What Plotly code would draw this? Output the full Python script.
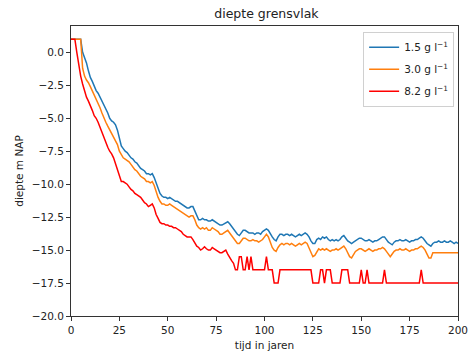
import plotly.graph_objects as go

# Time axis (years) and interface depth (m NAP) for three salinities
years = list(range(0, 201))

depth_1_5 = [
    1.0, 1.0, 1.0, 1.0, 1.0, 1.0, 0.0, -0.4, -0.8, -1.4,
    -1.9, -2.2, -2.6, -2.9, -3.1, -3.4, -3.6, -3.9, -4.2, -4.6,
    -5.0, -5.2, -5.3, -5.5, -5.9, -6.5, -7.1, -7.3, -7.5, -7.6,
    -7.8, -8.0, -8.1, -8.3, -8.4, -8.6, -8.8, -8.9, -9.0, -9.2,
    -9.2, -9.3, -9.2, -9.5, -9.9, -10.3, -10.7, -10.9, -11.0, -11.0,
    -11.1, -11.0, -11.1, -11.2, -11.3, -11.3, -11.4, -11.5, -11.6, -11.7,
    -11.8, -11.8, -11.7, -11.7, -12.0, -12.4, -12.7, -12.7, -12.6, -12.7,
    -12.7, -12.8, -12.8, -12.7, -12.8, -12.9, -13.0, -13.1, -13.1, -13.0,
    -12.9, -12.85, -13.0, -13.2, -13.4, -13.6, -13.8, -13.9, -13.7, -13.5,
    -13.5, -13.6, -13.7, -13.7, -13.7, -13.8, -13.7, -13.7, -13.8, -13.6,
    -13.5, -13.4, -13.5, -13.8, -14.0, -14.2, -14.3, -14.0, -13.8, -13.8,
    -13.9, -13.8, -13.8, -13.9, -13.8, -13.9, -14.0, -13.9, -13.8, -13.9,
    -13.8, -13.7, -13.8, -14.0, -14.3, -14.5, -14.5, -14.2, -14.1, -14.2,
    -14.0, -14.1, -14.0, -14.2, -14.3, -14.2, -14.3, -14.2, -14.3, -14.2,
    -14.0, -13.9, -14.1, -14.3, -14.4, -14.5, -14.4, -14.3, -14.2, -14.1,
    -14.1, -14.2, -14.3, -14.3, -14.2, -14.3, -14.4, -14.3, -14.3, -14.2,
    -14.1, -14.0, -14.0, -14.2, -14.4, -14.5, -14.6, -14.4, -14.3, -14.3,
    -14.2, -14.3, -14.3, -14.2, -14.3, -14.4, -14.3, -14.3, -14.2, -14.2,
    -14.1, -14.0, -14.1, -14.3, -14.5, -14.6, -14.7, -14.5, -14.4, -14.4,
    -14.3, -14.4, -14.4, -14.3, -14.4, -14.4, -14.3, -14.4, -14.5, -14.4,
    -14.5,
]

depth_3_0 = [
    1.0, 1.0, 1.0, 1.0, 1.0, 1.0, -1.2, -1.8, -2.1, -2.3,
    -2.6, -2.9, -3.2, -3.5, -3.8, -4.2, -4.6, -5.0, -5.3, -5.6,
    -5.9, -6.1, -6.4, -6.7, -7.0, -7.5, -7.8, -8.0, -8.1, -8.2,
    -8.3, -8.5, -8.7, -8.9, -9.0, -9.2, -9.4, -9.5, -9.6, -9.8,
    -9.8, -9.9, -9.8, -10.1, -10.6, -11.0, -11.3, -11.5, -11.5, -11.6,
    -11.6, -11.5, -11.6, -11.7, -11.8, -11.9, -12.0, -12.1, -12.2, -12.3,
    -12.4, -12.5, -12.4, -12.4, -12.7, -13.1, -13.3, -13.4, -13.3, -13.4,
    -13.3, -13.5, -13.5, -13.3, -13.4, -13.5, -13.6, -13.8, -13.8, -13.7,
    -13.6, -13.5, -13.7, -13.9, -14.1, -14.3, -14.5, -14.5, -14.3, -14.1,
    -14.1, -14.2, -14.3, -14.3, -14.2, -14.3, -14.3, -14.4, -14.3, -14.2,
    -14.0, -13.8, -14.0, -14.4, -14.8, -15.0, -15.1, -14.8, -14.6, -14.5,
    -14.6, -14.5, -14.5, -14.6, -14.5, -14.6, -14.7, -14.6, -14.5, -14.6,
    -14.5, -14.4, -14.5, -14.8, -15.2, -15.5, -15.4, -15.1, -14.9, -15.0,
    -14.9, -15.0, -14.9, -15.0, -15.1, -15.0, -15.0, -14.9, -15.0, -14.9,
    -14.8, -14.7, -14.9, -15.2, -15.5, -15.6, -15.3, -15.1, -15.0, -14.9,
    -14.9, -15.0, -15.1, -15.0, -14.9, -15.0, -15.1, -15.0, -15.0, -14.9,
    -14.9, -14.8, -14.9, -15.1, -15.3, -15.5, -15.3, -15.1, -15.0, -15.0,
    -14.9, -15.0, -15.0, -14.9, -15.0, -15.1, -15.0, -15.0, -14.9, -14.9,
    -14.8, -14.7, -14.8, -15.0, -15.3, -15.6, -15.6, -15.2, -15.2, -15.2,
    -15.2, -15.2, -15.2, -15.2, -15.2, -15.2, -15.2, -15.2, -15.2, -15.2,
    -15.2,
]

depth_8_2 = [
    1.0, 1.0, 1.0, 0.0, -1.0, -1.8, -2.4, -3.0, -3.4, -3.7,
    -4.0, -4.4, -4.8, -5.0, -5.3, -5.7, -6.0, -6.4, -6.8, -7.2,
    -7.5, -7.7, -8.0, -8.5, -9.0, -9.5, -9.8, -9.8, -9.9, -10.0,
    -10.2, -10.4, -10.5, -10.7, -10.8, -10.9, -11.0, -11.2, -11.4, -11.5,
    -11.7, -11.6, -11.5, -11.8, -12.3, -12.6, -12.9, -13.0, -13.0, -13.1,
    -13.1, -13.2, -13.2, -13.3, -13.3, -13.4, -13.5, -13.6, -13.8, -13.9,
    -14.0, -14.0, -14.0, -14.2, -14.5, -14.7, -14.8, -15.0, -14.9, -14.75,
    -14.9, -15.0, -15.0, -14.8, -14.9, -15.0, -15.1, -15.2, -15.2, -15.1,
    -15.0, -15.3, -15.6, -15.8, -16.0, -16.5, -16.5, -15.5, -15.5, -16.5,
    -16.5, -15.5, -16.5, -15.5, -16.5, -16.5, -16.5, -16.5, -16.5, -16.5,
    -16.5, -15.5, -16.5, -16.5, -16.5, -17.5, -17.5, -17.5, -16.5, -16.5,
    -16.5, -16.5, -16.5, -16.5, -16.5, -16.5, -16.5, -16.5, -16.5, -16.5,
    -16.5, -16.5, -16.5, -16.5, -16.5, -17.5, -17.5, -17.5, -17.5, -16.5,
    -16.5, -17.5, -16.5, -16.5, -16.5, -17.5, -17.5, -17.5, -17.5, -17.5,
    -16.5, -16.5, -16.5, -16.5, -17.5, -17.5, -17.5, -17.5, -17.5, -17.5,
    -16.5, -17.5, -17.5, -16.5, -17.5, -17.5, -17.5, -17.5, -17.5, -17.5,
    -17.5, -17.5, -16.5, -17.5, -17.5, -17.5, -17.5, -17.5, -17.5, -17.5,
    -17.5, -17.5, -17.5, -17.5, -17.5, -17.5, -17.5, -17.5, -17.5, -17.5,
    -17.5, -16.5, -17.5, -17.5, -17.5, -17.5, -17.5, -17.5, -17.5, -17.5,
    -17.5, -17.5, -17.5, -17.5, -17.5, -17.5, -17.5, -17.5, -17.5, -17.5,
    -17.5,
]

series_labels = ["1.5 g l<sup>−1</sup>", "3.0 g l<sup>−1</sup>", "8.2 g l<sup>−1</sup>"]
series_colors = ["#1f77b4", "#ff7f0e", "#ff0000"]

x_ticks = [0, 25, 50, 75, 100, 125, 150, 175, 200]
y_ticks = [0.0, -2.5, -5.0, -7.5, -10.0, -12.5, -15.0, -17.5, -20.0]

FONT = "DejaVu Sans"

fig = go.Figure()
for values, label, color in zip([depth_1_5, depth_3_0, depth_8_2], series_labels, series_colors):
    fig.add_trace(go.Scatter(
        x=years, y=values, mode="lines", name=label, legendgroup=label,
        line=dict(color=color, width=1.5),
    ))

axis_common = dict(
    showline=True, linecolor="#333", linewidth=1, mirror=True,
    ticks="outside", ticklen=4, tickcolor="#333", tickwidth=1,
    showgrid=False, zeroline=False, automargin=False,
    tickfont=dict(family=FONT, size=10.5, color="#222"),
)

fig.update_layout(
    width=469, height=353,
    margin=dict(l=71, r=11, t=26, b=37),
    paper_bgcolor="white", plot_bgcolor="white",
    font=dict(family=FONT, size=10.5, color="#222"),
    title=dict(text="diepte grensvlak", x=0.568, xanchor="center",
               y=0.975, yanchor="top", font=dict(family=FONT, size=12.5, color="#222")),
    xaxis=dict(range=[0, 200], tickvals=x_ticks, ticktext=[str(v) for v in x_ticks],
               title=dict(text="tijd in jaren", font=dict(family=FONT, size=10.5), standoff=7),
               **axis_common),
    yaxis=dict(range=[-20, 2], tickvals=y_ticks,
               ticktext=[f"{v:.1f}".replace("-", "−") for v in y_ticks],
               title=dict(text="diepte m NAP", font=dict(family=FONT, size=10.5), standoff=6),
               **axis_common),
    legend=dict(x=0.99, y=0.98, xanchor="right", yanchor="top",
                bgcolor="white", bordercolor="#d0d0d0", borderwidth=1,
                font=dict(family=FONT, size=10.5, color="#222"),
                traceorder="grouped", tracegroupgap=3,
                itemwidth=30),
    showlegend=True,
)

fig.write_html("out.html")
